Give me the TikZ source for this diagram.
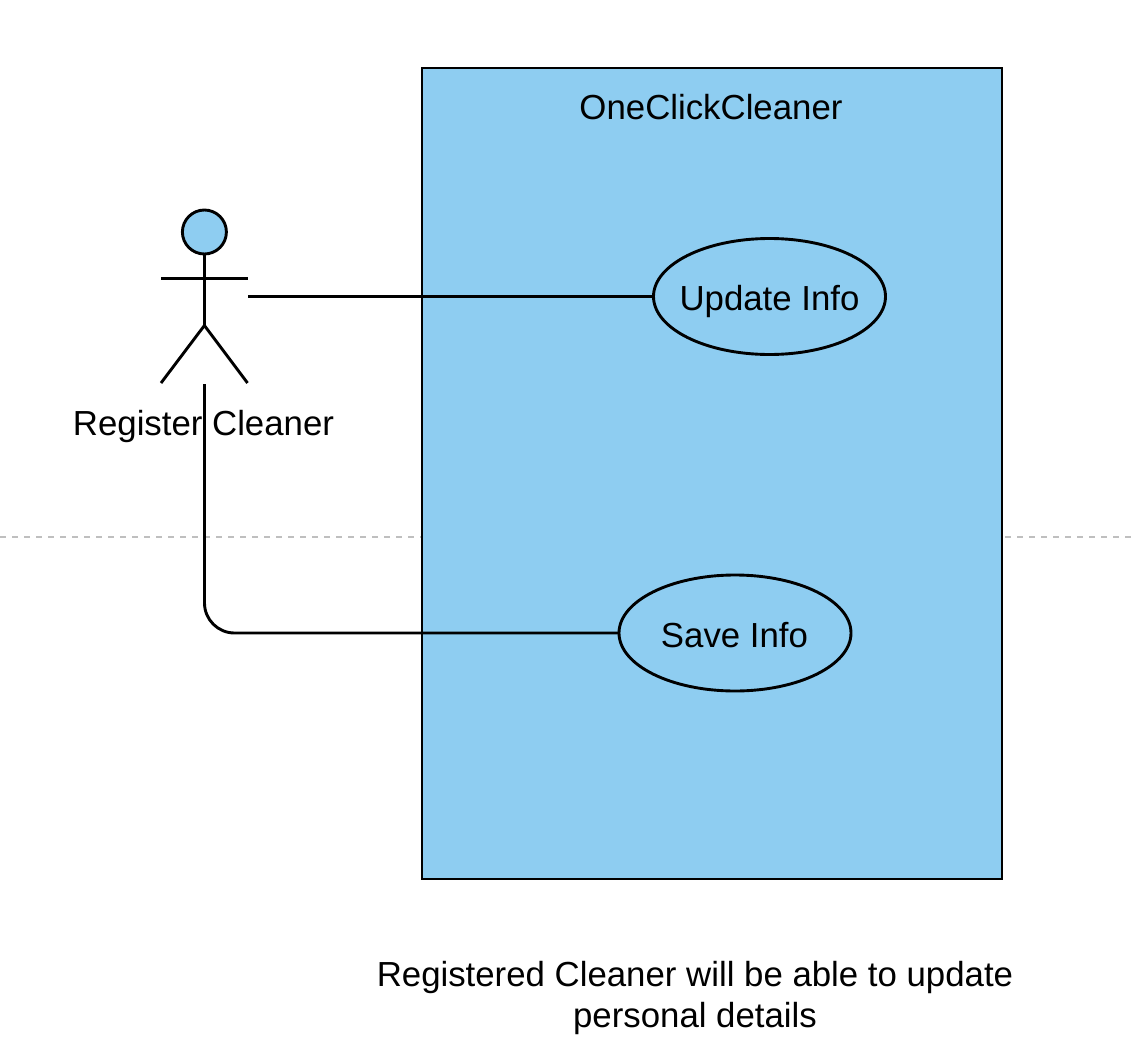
\documentclass[tikz,border=0pt]{standalone}
\usepackage{fontspec}
\setmainfont{Liberation Sans}
\usetikzlibrary{shapes.geometric}
\definecolor{skyfill}{HTML}{8ECDF1}
\definecolor{guide}{HTML}{BFBFBF}
\tikzset{
  x=1pt,y=-1pt,
  ink/.style={line width=2.9pt,draw=black},
  usecase/.style={ellipse,ink,fill=skyfill,inner sep=0pt,outer sep=0pt,minimum width=232pt,minimum height=116pt},
  lbl/.style={font=\fontsize{34.8}{41.5}\selectfont,inner sep=0pt,align=center},
  guideline/.style={line width=1.4pt,draw=guide,dash pattern=on 6pt off 6pt}
}
\begin{document}
\begin{tikzpicture}
\useasboundingbox (0,0) rectangle (1132,1046);
\fill[white] (0,0) rectangle (1132,1046);
\coordinate (gl1) at (0,537);
\coordinate (gl2) at (421,537);
\coordinate (gr1) at (1005,537);
\coordinate (gr2) at (1132,537);
\draw[guideline] (gl1) -- (gl2);
\draw[guideline] (gr1) -- (gr2);
\node[ink,fill=skyfill,minimum width=580pt,minimum height=811pt,inner sep=0pt,outer sep=0pt,anchor=north west] (system) at (422,68) {};
\node[lbl,anchor=center] (systitle) at (711,107) {OneClickCleaner};
\node[usecase] (update) at (769.5,296.5) {};
\node[usecase] (save) at (735,633) {};
\node[lbl] (updatelbl) at (769.5,302) {Update Info};
\node[lbl] (savelbl) at (734.5,635) {Save Info};
% actor
\node[circle,ink,fill=skyfill,inner sep=0pt,outer sep=0pt,minimum size=44pt] (head) at (204.4,232) {};
\coordinate (hip) at (204.4,325.5);
\coordinate (armL) at (161,278.8);
\coordinate (armR) at (247.5,278.8);
\coordinate (legL) at (161,383);
\coordinate (legR) at (247.5,383);
\draw[ink] (head.south) -- (hip);
\draw[ink] (armL) -- (armR);
\draw[ink] (legL) -- (hip) -- (legR);
\node[lbl] (actorlabel) at (203.5,426.5) {Register Cleaner};
\coordinate (portA) at (248,296.5);
\coordinate (portB) at (204.5,384);
\draw[ink] (portA) -- (update.west);
\draw[ink,rounded corners=30pt] (portB) |- (save.west);
\node[lbl] (note) at (695,998) {Registered Cleaner will be able to update\\personal details};
\end{tikzpicture}
\end{document}
